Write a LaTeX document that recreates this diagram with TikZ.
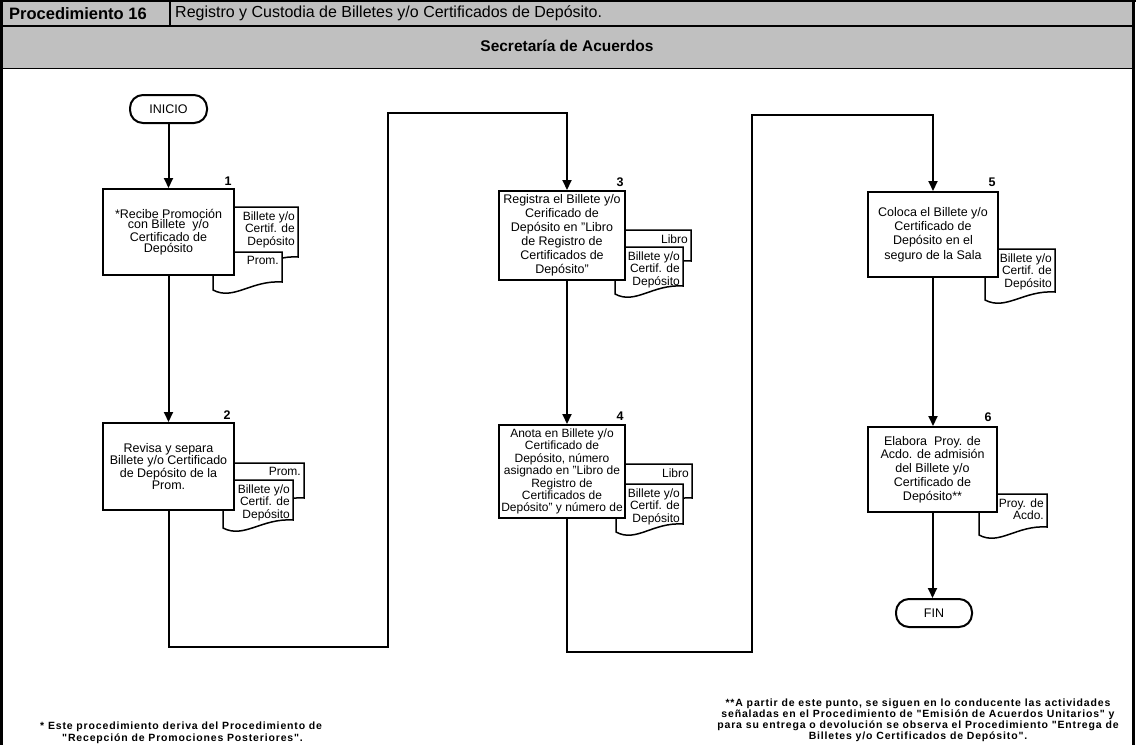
\documentclass[tikz,border=0pt]{standalone}
\usepackage{fontspec}
\setmainfont{Liberation Sans}
\newfontfamily\spacedfont[LetterSpace=8]{Liberation Sans}
\usetikzlibrary{arrows.meta,calc}
\definecolor{hdrgray}{HTML}{C0C0C0}
\tikzset{
  proc/.style={draw, line width=2pt, fill=white, inner sep=0pt, align=center, font=\fontsize{12.5}{14}\selectfont},
  term/.style={draw, line width=2pt, fill=white, rounded corners=13pt, inner sep=0pt, font=\fontsize{12.5}{14}\selectfont},
  docline/.style={draw, line width=1.5pt, fill=white},
  doctext/.style={inner sep=0pt, align=right, anchor=north east, font=\fontsize{12}{12.4}\selectfont},
  num/.style={font=\bfseries\fontsize{12.5}{14}\selectfont, inner sep=0pt},
  conn/.style={line width=2pt},
  arr/.style={conn, -{Triangle[length=10pt,width=9pt]}},
  foot/.style={inner sep=0pt, font=\spacedfont\bfseries\fontsize{10.5}{10.8}\selectfont},
}
\newcommand\docu[6]{%
  \path[docline] (#2,#3) -- (#4,#3) -- (#4,{#5-8}) .. controls ({#2+0.55*(#4-#2)},{#5-10}) and ({#2+0.3*(#4-#2)},{#5+11}) .. (#2,#5) -- cycle;
  \node[doctext] (#1) at ({#4-3},{#3+4.5}) {#6};
}
\begin{document}
\begin{tikzpicture}[x=1pt,y=-1pt]
\useasboundingbox (0,0) rectangle (1136,745);
% header
\fill[hdrgray] (2,1) rectangle (1133,68);
\draw[line width=1.8pt] (2,26) -- (1133,26);
\draw[line width=1pt] (2,68) -- (1133,68);
\draw[line width=1.5pt] (170,1) -- (170,26);
\draw[line width=2.4pt] (0,1) -- (1136,1);
\draw[line width=2.6pt] (1.5,0) -- (1.5,745);
\draw[line width=2.6pt] (1133.5,0) -- (1133.5,745);
\node[font=\bfseries\fontsize{16.5}{18}\selectfont, anchor=west, inner sep=0pt] (proc) at (9,13.5) {Procedimiento 16};
\node[font=\fontsize{16}{18}\selectfont, anchor=west, inner sep=0pt] (title) at (175,13.5) {Registro y Custodia de Billetes y/o Certificados de Depósito.};
\node[font=\bfseries\fontsize{15.5}{18}\selectfont, inner sep=0pt] (area) at (567,46) {Secretaría de Acuerdos};

% terminals
\node[term, minimum width=77pt, minimum height=28pt] (ini) at (168.5,109) {INICIO};
\node[term, minimum width=76pt, minimum height=28pt] (fin) at (934,613) {FIN};

% step 1
\docu{d1a}{233}{207}{298}{265}{Billete y/o\\Certif. de\\Depósito}
\docu{d1b}{213}{252}{282}{290}{Prom.}
\node[proc, minimum width=131pt, minimum height=86pt, font=\fontsize{12.5}{10.5}\selectfont] (b1) at (168.5,232) {*Recibe Promoción\\con Billete\ \ y/o\\Certificado de\\Depósito};
\node[num] (n1) at (228,181) {1};

% step 2
\docu{d2a}{234}{463}{304}{506}{Prom.}
\docu{d2b}{223}{480}{293}{528}{Billete y/o\\Certif. de\\Depósito}
\node[proc, minimum width=131pt, minimum height=87pt, font=\fontsize{12.5}{12.3}\selectfont] (b2) at (168.5,466.5) {Revisa y separa\\Billete y/o Certificado\\de Depósito de la\\Prom.};
\node[num] (n2) at (227,415) {2};

% step 3
\docu{d3a}{625}{230}{691}{269}{Libro}
\docu{d3b}{615}{247}{683}{294}{Billete y/o\\Certif. de\\Depósito}
\node[proc, minimum width=126pt, minimum height=89pt, font=\fontsize{12.5}{14}\selectfont] (b3) at (562,235.5) {Registra el Billete y/o\\Cerificado de\\Depósito en "Libro\\de Registro de\\Certificados de\\Depósito"};
\node[num] (n3) at (620,182) {3};

% step 4
\docu{d4a}{625}{464}{692}{506}{Libro}
\docu{d4b}{616}{484}{683}{532}{Billete y/o\\Certif. de\\Depósito}
\node[proc, minimum width=126pt, minimum height=93pt, font=\fontsize{12}{12.4}\selectfont] (b4) at (562,471.5) {Anota en Billete y/o\\Certificado de\\Depósito, número\\asignado en "Libro de\\Registro de\\Certificados de\\Depósito" y número de};
\node[num] (n4) at (620,416) {4};

% step 5
\docu{d5}{985}{249}{1055}{300}{Billete y/o\\Certif. de\\Depósito}
\node[proc, minimum width=130pt, minimum height=85pt, font=\fontsize{12.5}{14.2}\selectfont] (b5) at (933,234.5) {Coloca el Billete y/o\\Certificado de\\Depósito en el\\seguro de la Sala};
\node[num] (n5) at (992,182) {5};

% step 6
\docu{d6}{979}{494}{1047}{535}{Proy. de\\Acdo.}
\node[proc, minimum width=129pt, minimum height=85pt, font=\fontsize{12.5}{13.8}\selectfont] (b6) at (932.5,469.5) {Elabora\ \ Proy. de\\Acdo. de admisión\\del Billete y/o\\Certificado de\\Depósito**};
\node[num] (n6) at (988,417) {6};

% connectors
\coordinate (c1a) at (168.5,647);
\coordinate (c1b) at (388,647);
\coordinate (c1c) at (388,113);
\coordinate (c1d) at (567,113);
\coordinate (c2a) at (567,652);
\coordinate (c2b) at (752,652);
\coordinate (c2c) at (752,115);
\coordinate (c2d) at (933,115);
\draw[arr] (ini) -- (b1);
\draw[arr] (b1) -- (b2);
\draw[arr] (b2.south) -- (c1a) -- (c1b) -- (c1c) -- (c1d) -- (c1d |- b3.north);
\draw[arr] (b3.south -| c1d) -- (b4.north -| c1d);
\draw[arr] (b4.south -| c2a) -- (c2a) -- (c2b) -- (c2c) -- (c2d) -- (b5.north);
\draw[arr] (b5.south) -- (b6.north -| b5.south);
\draw[arr] (b6.south) -- (fin.north -| b6.south);

% footnotes
\node[foot, align=left, anchor=north west, font=\spacedfont\bfseries\fontsize{10.5}{12}\selectfont] (fn1) at (40,722) {* Este procedimiento deriva del Procedimiento de\\\hspace*{22pt}"Recepción de Promociones Posteriores".};
\node[foot, align=center, anchor=north] (fn2) at (918,699) {**A partir de este punto, se siguen en lo conducente las actividades\\señaladas en el Procedimiento de "Emisión de Acuerdos Unitarios" y\\para su entrega o devolución se observa el Procedimiento "Entrega de\\Billetes y/o Certificados de Depósito".};
\end{tikzpicture}
\end{document}
